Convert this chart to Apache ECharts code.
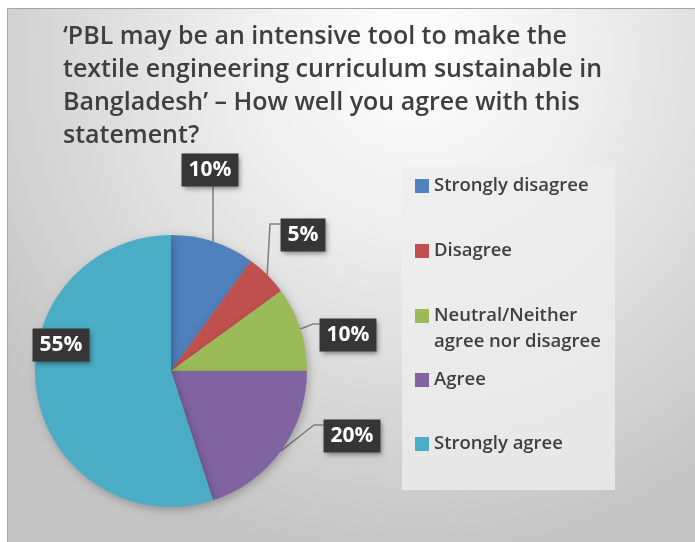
<!DOCTYPE html>
<html>
<head>
<meta charset="utf-8">
<script src="https://cdn.jsdelivr.net/npm/echarts@6/dist/echarts.min.js"></script>
<style>
  html, body { margin: 0; padding: 0; background: #fff; }
  #main { width: 695px; height: 542px; }
</style>
</head>
<body>
<div id="main"></div>
<script>
var categories = ['Strongly disagree', 'Disagree', 'Neutral/Neither agree nor disagree', 'Agree', 'Strongly agree'];
var shares = [10, 5, 10, 20, 55];
var colors = ['#4f81bd', '#c0504d', '#9bbb59', '#8064a2', '#4bacc6'];

var titleText = '\u2018PBL may be an intensive tool to make the\ntextile engineering curriculum sustainable in\nBangladesh\u2019 \u2013 How well you agree with this\nstatement?';

(function(){
    var myChart = echarts.init(document.getElementById('main'));
    var font = '"Open Sans", sans-serif';

    // where each percentage box sits, and the bend of its leader line
    var spots = [[210, 170], [303, 235], [348, 335], [352, 436], [61, 345]];
    var bends = [null, [270, 224], [313, 324], [314, 425], null];

    var pieData = [];
    for (var i = 0; i < categories.length; i++) {
        var item = { name: categories[i], value: shares[i], itemStyle: { color: colors[i] } };
        if (i == 4) {
            item.labelLine = { show: false };
            item.label = { position: 'inside' };
        }
        pieData.push(item);
    }

    // one legend per entry so the spacing follows the original
    var legendCenters = [186, 251, 316, 380, 444];
    var legends = [];
    for (var j = 0; j < categories.length; j++) {
        var twoLines = categories[j].indexOf('Neutral') === 0;
        legends.push({
            data: [categories[j]],
            left: 415,
            top: twoLines ? legendCenters[j] - 39 : legendCenters[j] - 13,
            padding: 0,
            icon: 'rect',
            itemWidth: 14,
            itemHeight: 14,
            selectedMode: false,
            formatter: function (name) {
                // blank first line keeps the square level with "Neutral/Neither"
                return name.indexOf('Neutral') === 0 ? ' \nNeutral/Neither\nagree nor disagree' : name;
            },
            textStyle: {
                fontFamily: font,
                fontSize: 18.5,
                fontWeight: 600,
                color: '#3f3f3f',
                lineHeight: 26
            }
        });
    }

    var option = {
        backgroundColor: '#fff',
        animation: false,
        title: {
            text: titleText,
            left: 63,
            top: 20,
            padding: 0,
            textStyle: {
                fontFamily: font,
                fontSize: 25,
                fontWeight: 600,
                color: '#3f3f3f',
                lineHeight: 33
            }
        },
        legend: legends,
        graphic: [
            {
                type: 'rect',
                z: -10,
                silent: true,
                shape: { x: 7.5, y: 8.5, width: 700, height: 540 },
                style: {
                    fill: {
                        type: 'radial', x: 0.58, y: 0.08, r: 0.95,
                        colorStops: [
                            { offset: 0, color: '#ffffff' },
                            { offset: 0.35, color: '#eeeeee' },
                            { offset: 1, color: '#c4c4c4' }
                        ]
                    },
                    stroke: '#a6a6a6',
                    lineWidth: 1
                }
            },
            {
                type: 'rect',
                z: -5,
                silent: true,
                shape: { x: 402, y: 167, width: 213, height: 323 },
                style: { fill: 'rgba(238,238,238,0.8)' }
            }
        ],
        series: [
            {
                name: 'PBL',
                type: 'pie',
                center: [171, 371],
                radius: 136,
                startAngle: 90,
                clockwise: true,
                itemStyle: {
                    shadowBlur: 8,
                    shadowColor: 'rgba(0,0,0,0.25)',
                    shadowOffsetX: 2,
                    shadowOffsetY: 3
                },
                label: {
                    show: true,
                    position: 'outside',
                    overflow: 'none',
                    formatter: '{c}%',
                    fontFamily: font,
                    fontSize: 21,
                    fontWeight: 'bold',
                    color: '#ffffff',
                    backgroundColor: '#363636',
                    padding: [7, 7, 5, 7],
                    shadowBlur: 5,
                    shadowColor: 'rgba(0,0,0,0.45)',
                    shadowOffsetX: 2,
                    shadowOffsetY: 2
                },
                labelLine: {
                    show: true,
                    lineStyle: { color: '#7f7f7f', width: 1.5 }
                },
                labelLayout: function (params) {
                    var k = params.dataIndex;
                    var s = spots[k];
                    var res = { x: s[0], y: s[1], align: 'center', verticalAlign: 'middle' };
                    var pts = params.labelLinePoints;
                    if (pts && k != 4) {
                        var edge = pts[0];
                        var w = params.labelRect.width, h = params.labelRect.height;
                        if (bends[k]) {
                            var b = bends[k];
                            res.labelLinePoints = [edge, b, [s[0] - w / 2, b[1]]];
                        } else {
                            res.labelLinePoints = [edge, [edge[0], s[1] + h / 2], [edge[0], s[1] + h / 2]];
                        }
                    }
                    return res;
                },
                emphasis: { disabled: true },
                data: pieData
            }
        ]
    };

    myChart.setOption(option);
})();
</script>
</body>
</html>
